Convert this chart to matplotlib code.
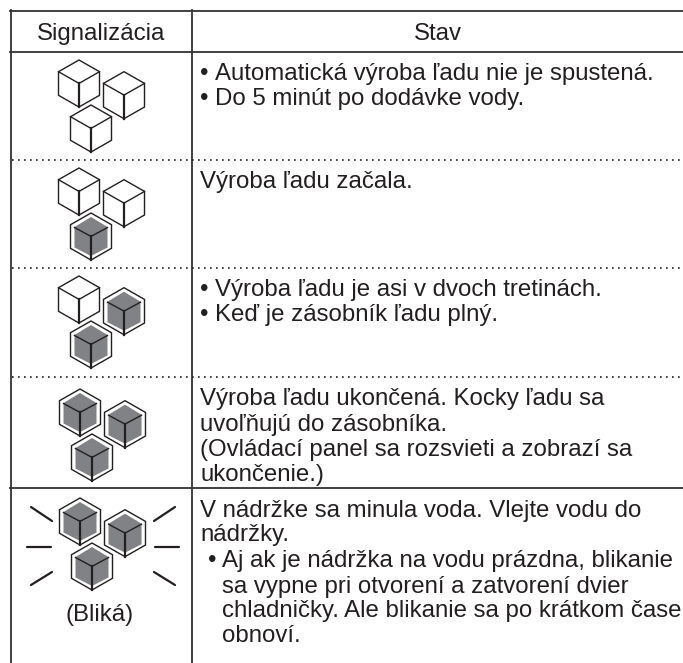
import matplotlib
matplotlib.use("Agg")
import matplotlib.pyplot as plt
from matplotlib.patches import Polygon

W, H = 683, 663
plt.rcParams['font.family'] = ['Liberation Sans', 'DejaVu Sans']

headers = ["Signalizácia", "Stav"]
solid_rows = [10.7, 51.7, 488.3]
dotted_rows = [160, 267.7, 377]
# filled or not for each cube in a row: top-left, right, bottom
cube_states = [[0, 0, 0], [0, 0, 1], [0, 1, 1], [1, 1, 1], [1, 1, 1]]
cube_tops = [60, 168, 276, 389, 498]
cube_xs = [79, 79, 79, 80, 80]
# (text, text x, bullet x or None, baseline y)
status_text = [
    ("Automatická výroba ľadu nie je spustená.", 215, 200, 80),
    ("Do 5 minút po dodávke vody.", 215, 200, 105.5),
    ("Výroba ľadu začala.", 200, None, 188),
    ("Výroba ľadu je asi v dvoch tretinách.", 215, 200, 296),
    ("Keď je zásobník ľadu plný.", 215, 200, 321.5),
    ("Výroba ľadu ukončená. Kocky ľadu sa", 200, None, 405),
    ("uvoľňujú do zásobníka.", 200, None, 430.5),
    ("(Ovládací panel sa rozsvieti a zobrazí sa", 200, None, 456),
    ("ukončenie.)", 200, None, 481),
    ("V nádržke sa minula voda. Vlejte vodu do", 200, None, 516.5),
    ("nádržky.", 200, None, 541.5),
    ("Aj ak je nádržka na vodu prázdna, blikanie", 222, 208, 567),
    ("sa vypne pri otvorení a zatvorení dvier", 222, None, 592.5),
    ("chladničky. Ale blikanie sa po krátkom čase", 222, None, 617.5),
    ("obnoví.", 222, None, 642.5),
]
rays = [((31, 507), (52, 521)), ((27, 547), (51, 547)), ((31, 585), (52, 572)),
        ((175, 507), (154, 521)), ((179, 547), (155, 547)), ((175, 585), (154, 572))]

dark = "#231f20"
fs = 17.3
fig = plt.figure(figsize=(W / 100, H / 100), dpi=100)
ax = fig.add_axes([0, 0, 1, 1])
ax.set_xlim(0, W)
ax.set_ylim(H, 0)
ax.axis("off")

def cube(x, y, filled):
    # x,y = top vertex
    hw, hh, q = 20.5, 47, 11.7
    hexa = [(x, y), (x + hw, y + q), (x + hw, y + hh - q), (x, y + hh),
            (x - hw, y + hh - q), (x - hw, y + q)]
    ax.add_patch(Polygon(hexa, closed=True, fc="white", ec=dark, lw=1.0, zorder=3))
    if filled:
        hw2 = 16.5
        inner = [(x, y + 4), (x + hw2, y + 14), (x + hw2, y + 34.5), (x, y + 43),
                 (x - hw2, y + 34.5), (x - hw2, y + 14)]
        ax.add_patch(Polygon(inner, closed=True, fc="#808285", ec="none", zorder=4))
        ax.plot([x - hw2, x, x + hw2], [y + 14.5, y + 2 * q, y + 14.5],
                color=dark, lw=1.0, zorder=5)
    else:
        ax.plot([x - hw, x, x + hw], [y + q, y + 2 * q, y + q], color=dark, lw=1.0, zorder=5)
    ax.plot([x, x], [y + 2 * q, y + hh], color=dark, lw=1.6, zorder=5)

for y in solid_rows:
    ax.plot([10, W], [y, y], color="#333132", lw=1.3)
for x in [10.7, 192.3]:
    ax.plot([x, x], [10, H], color="#333132", lw=1.3)
for y in dotted_rows:
    ax.plot([12, W], [y, y], color=dark, lw=1.2, ls=(0, (1, 2.6)))

ax.text(101, 40, headers[0], ha="center", va="baseline", fontsize=fs, color=dark)
ax.text(438, 40, headers[1], ha="center", va="baseline", fontsize=fs, color=dark)

# bottom cube is drawn last, it sits over the others
for top, x0, states in zip(cube_tops, cube_xs, cube_states):
    cube(x0, top, states[0])
    cube(x0 + 45, top + 11.7, states[1])
    cube(x0 + 12, top + 45, states[2])

for line, tx, bx, by in status_text:
    ax.text(tx, by, line, va="baseline", fontsize=fs, color=dark)
    if bx is not None:
        ax.text(bx, by, "•", va="baseline", fontsize=fs, color=dark)

ax.text(100, 621.5, "(Bliká)", ha="center", va="baseline", fontsize=fs, color=dark)
for a, b in rays:
    ax.plot([a[0], b[0]], [a[1], b[1]], color=dark, lw=1.6, solid_capstyle="round")

fig.savefig("out.png", dpi=100)
